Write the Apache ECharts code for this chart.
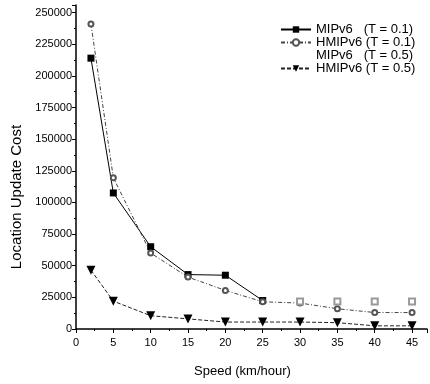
<!DOCTYPE html>
<html>
<head>
<meta charset="utf-8">
<script src="https://cdn.jsdelivr.net/npm/echarts@6/dist/echarts.min.js"></script>
<style>html,body{margin:0;padding:0;background:#fff;}#c{width:430px;height:384px;}</style>
</head>
<body>
<div id="c"></div>
<script>
const speeds = [2, 5, 10, 15, 20, 25, 30, 35, 40, 45];
const mipv6T01 = [214000, 107500, 65000, 43000, 42500, 22500, null, null, null, null];
const hmipv6T01 = [241000, 119500, 60000, 41000, 30500, 21500, 20500, 16000, 13000, 13000];
const mipv6T05 = [null, null, null, null, null, null, 21800, 21800, 21800, 21800];
const hmipv6T05 = [46500, 22000, 10500, 8000, 5500, 5500, 5500, 5000, 2500, 2500];
const seriesNames = ['MIPv6   (T = 0.1)', 'HMIPv6 (T = 0.1)', 'MIPv6   (T = 0.5)', 'HMIPv6 (T = 0.5)'];
const yTicks = [0, 25000, 50000, 75000, 100000, 125000, 150000, 175000, 200000, 225000, 250000];
const xTicks = [0, 5, 10, 15, 20, 25, 30, 35, 40, 45];

function pairs(vals) { return speeds.map((s, i) => [s, vals[i]]); }

const chart = echarts.init(document.getElementById('c'));
const font = 'Liberation Sans, Arial, sans-serif';
chart.setOption({
  animation: false,
  backgroundColor: '#fff',
  grid: { left: 76, right: 2, top: 5, bottom: 55 },
  legend: {
    orient: 'vertical', left: 275, top: 18,
    itemWidth: 30, itemHeight: 8, itemGap: 0,
    textStyle: { fontFamily: font, fontSize: 13, color: '#000', lineHeight: 11 },
    data: [
      { name: seriesNames[0] },
      { name: seriesNames[1] },
      { name: seriesNames[2], itemStyle: { opacity: 0 }, lineStyle: { opacity: 0 } },
      { name: seriesNames[3] }
    ]
  },
  xAxis: {
    type: 'value', min: 0, max: 47, interval: 5,
    name: 'Speed (km/hour)', nameLocation: 'middle', nameGap: 36,
    nameTextStyle: { fontFamily: font, fontSize: 13, color: '#000', padding: [0, 18, 0, 0] },
    axisLine: { lineStyle: { color: '#000', width: 1.5 } },
    axisTick: { inside: false, length: 4, lineStyle: { color: '#000' } },
    minorTick: { show: true, splitNumber: 2, length: 2, lineStyle: { color: '#000' } },
    splitLine: { show: false },
    axisLabel: { fontFamily: font, fontSize: 11, color: '#000', margin: 8,
      formatter: v => (xTicks.indexOf(v) >= 0 ? String(v) : '') }
  },
  yAxis: {
    type: 'value', min: 0, max: 256000, interval: 25000,
    name: 'Location Update Cost', nameLocation: 'middle', nameGap: 52,
    nameTextStyle: { fontFamily: font, fontSize: 15, color: '#000', padding: [0, 60, 0, 0] },
    axisLine: { show: true, lineStyle: { color: '#000', width: 1.5 } },
    axisTick: { show: true, length: 4, lineStyle: { color: '#000' } },
    minorTick: { show: true, splitNumber: 2, length: 2, lineStyle: { color: '#000' } },
    splitLine: { show: false },
    axisLabel: { fontFamily: font, fontSize: 11, color: '#000', margin: 4,
      formatter: v => (yTicks.indexOf(v) >= 0 ? String(v) : '') }
  },
  series: [
    { name: seriesNames[0], type: 'line', data: pairs(mipv6T01), connectNulls: false,
      symbol: 'rect', symbolSize: 7, itemStyle: { color: '#000' },
      lineStyle: { color: '#000', width: 1, type: 'solid' } },
    { name: seriesNames[1], type: 'line', data: pairs(hmipv6T01),
      symbol: 'emptyCircle', symbolSize: 5, itemStyle: { color: '#555', borderWidth: 1.5 },
      lineStyle: { color: '#444', width: 1, type: [4, 2, 1, 2] } },
    { name: seriesNames[2], type: 'line', data: pairs(mipv6T05),
      symbol: 'emptyRect', symbolSize: 6, itemStyle: { color: '#999', borderWidth: 1 },
      lineStyle: { opacity: 0 } },
    { name: seriesNames[3], type: 'line', data: pairs(hmipv6T05),
      symbol: 'triangle', symbolRotate: 180, symbolSize: 9, itemStyle: { color: '#000' },
      lineStyle: { color: '#222', width: 1, type: [4, 2] } }
  ]
});
</script>
</body>
</html>
